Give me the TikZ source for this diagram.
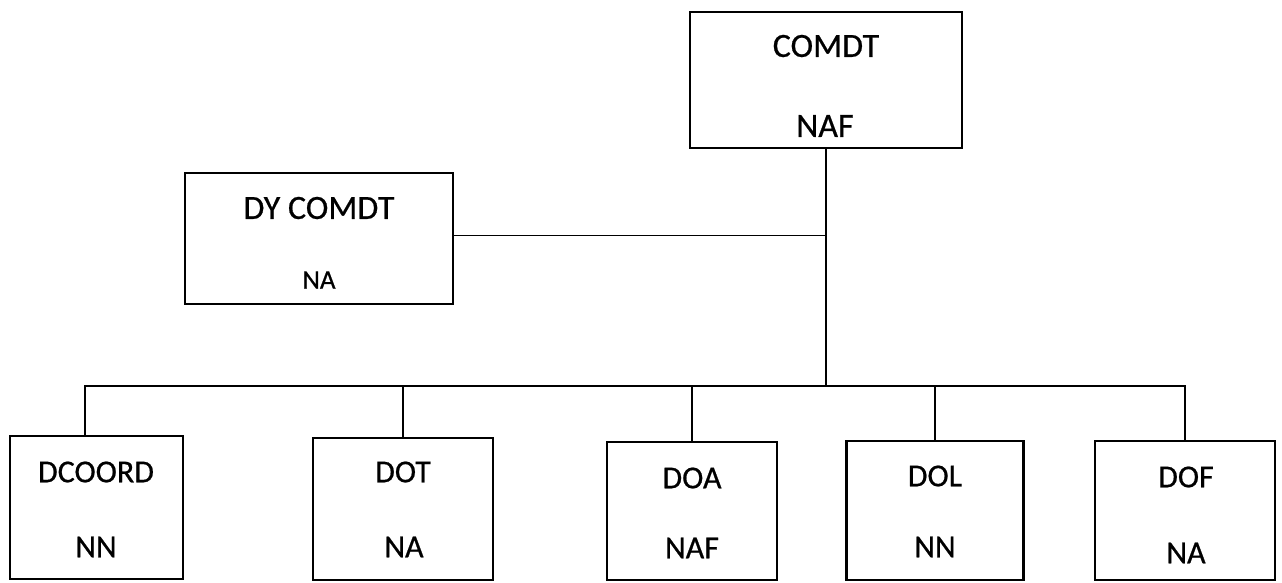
\documentclass[tikz,border=0pt]{standalone}
\usepackage{fontspec}
\setmainfont{Carlito}
\newfontfamily\scanfont[FakeBold=0.6]{Carlito}
\begin{document}
\begin{tikzpicture}[x=1pt,y=-1pt,
  box/.style={draw=black,line width=2.2pt,inner sep=0pt},
  conn/.style={draw=black,line width=1.5pt},
  big/.style={font=\scanfont\fontsize{34}{40}\selectfont,inner sep=0pt},
  mid/.style={font=\scanfont\fontsize{32}{38}\selectfont,inner sep=0pt},
  small/.style={font=\scanfont\fontsize{27}{32}\selectfont,inner sep=0pt}]
\useasboundingbox (0,0) rectangle (1282,582);
% boxes
\node[box,minimum width=272pt,minimum height=136pt] (comdt) at (826,80) {};
\node[box,minimum width=268pt,minimum height=131pt] (dy) at (319,238.5) {};
\node[box,minimum width=173pt,minimum height=143pt] (dcoord) at (96.5,507.5) {};
\node[box,minimum width=180pt,minimum height=142pt] (dot) at (403,509) {};
\node[box,minimum width=170pt,minimum height=138pt] (doa) at (692,511) {};
\node[box,minimum width=177pt,minimum height=139pt] (dol) at (935,510.5) {};
\node[box,minimum width=180pt,minimum height=139pt] (dof) at (1185,510.5) {};
% texts
\node[big] (t1a) at (826,46) {COMDT};
\node[big] (t1b) at (825,126) {NAF};
\node[big] (t2a) at (319,208) {DY COMDT};
\node[small] (t2b) at (319,280) {NA};
\node[mid] (t3a) at (96,472) {DCOORD};
\node[mid] (t3b) at (96,547) {NN};
\node[mid] (t4a) at (403,472) {DOT};
\node[mid] (t4b) at (404,547) {NA};
\node[mid] (t5a) at (692,478) {DOA};
\node[mid] (t5b) at (692,548) {NAF};
\node[mid] (t6a) at (935,476) {DOL};
\node[mid] (t6b) at (935,547) {NN};
\node[mid] (t7a) at (1186,477) {DOF};
\node[mid] (t7b) at (1186,553) {NA};
% connectors
\coordinate (j) at (826,386);
\draw[conn] (comdt.south) -- (j);
\draw[conn] ([yshift=3pt]dy.east) -- ([yshift=3pt]dy.east -| comdt.south);
\draw[conn] ([xshift=-11.5pt]dcoord.north) |- (j) -| (dof.north);
\foreach \n in {dot,doa,dol} \draw[conn] (\n.north) -- (\n.north |- j);
\end{tikzpicture}
\end{document}
